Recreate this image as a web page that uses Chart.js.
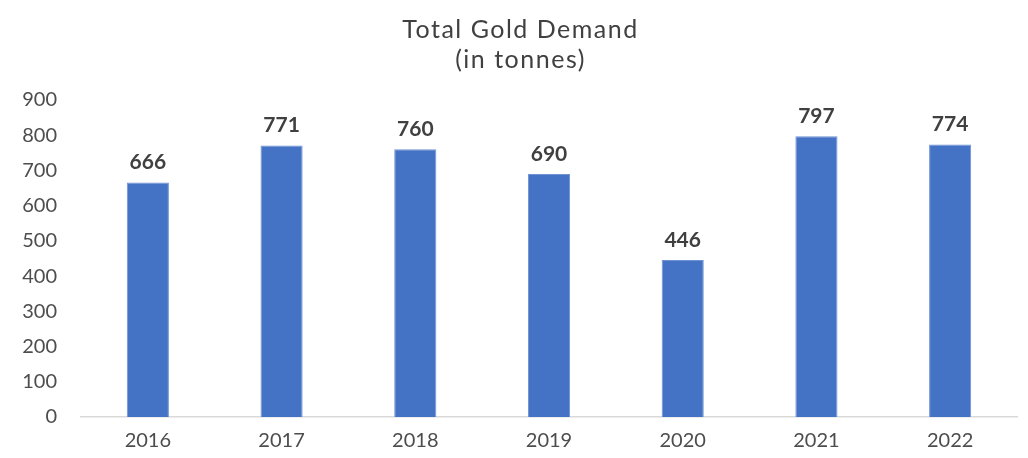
<!DOCTYPE html>
<html>
<head>
<meta charset="utf-8">
<script src="https://cdn.jsdelivr.net/npm/chart.js@4.4.1/dist/chart.umd.min.js"></script>
<style>
  html, body { margin: 0; padding: 0; background: #ffffff; }
  #wrap { width: 1028px; height: 458px; position: relative; }
</style>
</head>
<body>
<div id="wrap"><canvas id="c"></canvas></div>
<script>
const categories = ["2016", "2017", "2018", "2019", "2020", "2021", "2022"];
const demandTonnes = [666, 771, 760, 690, 446, 797, 774];
const titleLines = ["Total Gold Demand", "(in tonnes)"];
const yTickMax = 900;
const yTickStep = 100;

const FONT = "Lato, 'Open Sans', sans-serif";

const valueLabels = {
  id: 'valueLabels',
  afterDatasetsDraw(chart) {
    const ctx = chart.ctx;
    const meta = chart.getDatasetMeta(0);
    ctx.save();
    ctx.font = "bold 21px " + FONT;
    ctx.fillStyle = "#404040";
    ctx.textAlign = "center";
    ctx.textBaseline = "middle";
    meta.data.forEach((bar, i) => {
      ctx.fillText(String(demandTonnes[i]), bar.x, bar.y - 20);
    });
    ctx.restore();
  }
};

const titleSpacing = {
  id: 'titleSpacing',
  afterLayout(chart) {
    const tb = chart.titleBlock;
    if (tb && !tb._spaced) {
      const orig = tb.draw.bind(tb);
      tb.draw = function (area) {
        const ctx = chart.ctx;
        ctx.save();
        ctx.translate(12, 0);
        ctx.letterSpacing = '1.5px';
        orig(area);
        ctx.restore();
      };
      tb._spaced = true;
    }
  }
};

new Chart(document.getElementById('c'), {
  type: 'bar',
  data: {
    labels: categories,
    datasets: [{
      data: demandTonnes,
      backgroundColor: '#4472C4',
      borderColor: '#6f93d3',
      borderWidth: 1,
      barPercentage: 0.63,
      categoryPercentage: 0.5
    }]
  },
  options: {
    responsive: true,
    maintainAspectRatio: false,
    animation: false,
    layout: { padding: { top: 15, right: 11, bottom: 0, left: 0 } },
    plugins: {
      legend: { display: false },
      tooltip: { enabled: false },
      title: {
        display: true,
        text: titleLines,
        color: '#404040',
        font: { family: FONT, size: 25, weight: 'normal', lineHeight: 1.2 },
        padding: { top: 0, bottom: 25 }
      }
    },
    scales: {
      x: {
        grid: { display: false, drawTicks: false },
        border: { display: true, color: '#d9d9d9', width: 1.5 },
        ticks: { color: '#4d4d4d', font: { family: FONT, size: 20 }, padding: 12 },
        afterFit(scale) { scale.height = 41; }
      },
      y: {
        min: 0,
        max: yTickMax,
        grid: { display: false, drawTicks: false },
        border: { display: false },
        ticks: { stepSize: yTickStep, color: '#4d4d4d', font: { family: FONT, size: 20 }, padding: 24 },
        afterFit(scale) { scale.width = 81; }
      }
    }
  },
  plugins: [valueLabels, titleSpacing]
});
</script>
</body>
</html>
